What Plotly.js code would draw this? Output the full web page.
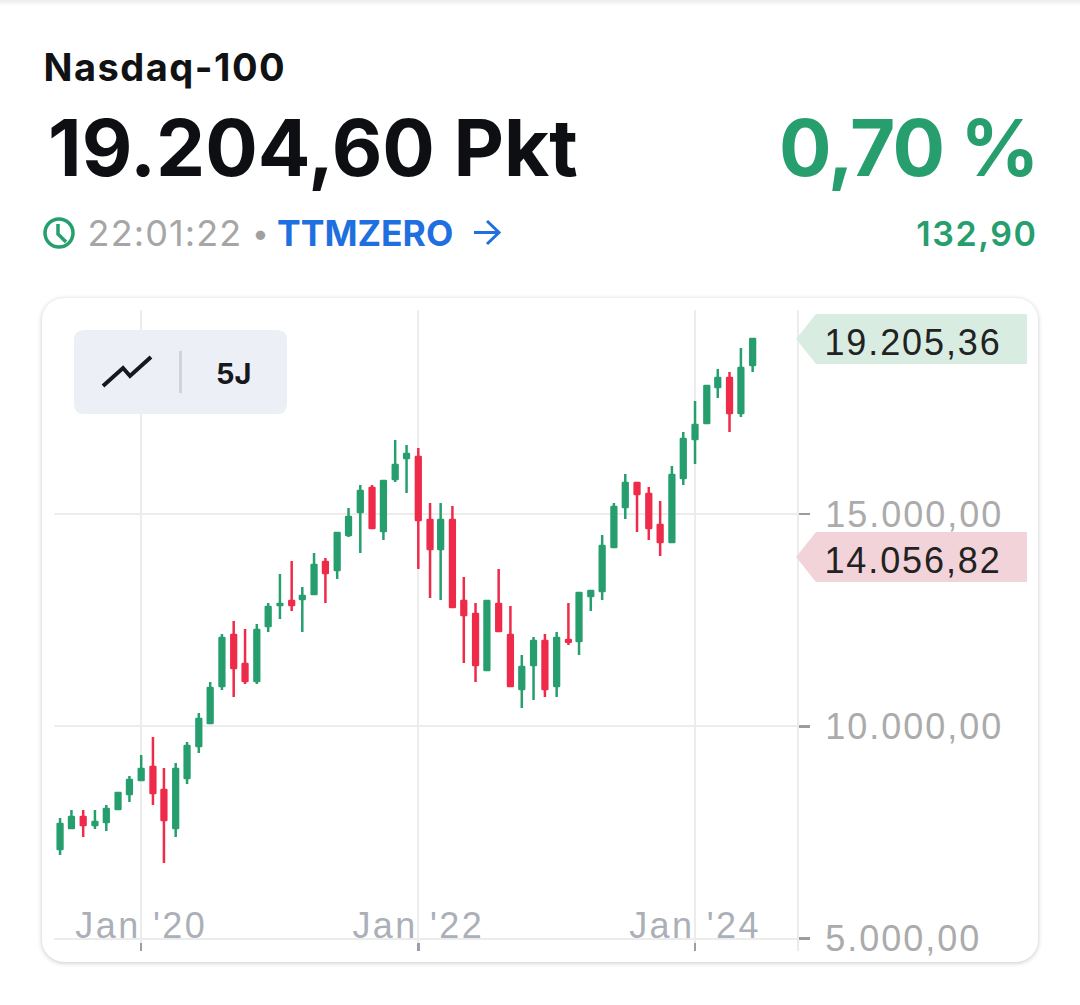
<!DOCTYPE html>
<html><head><meta charset="utf-8">
<script src="https://cdn.plot.ly/plotly-3.0.1.min.js"></script>
<style>
html,body{margin:0;padding:0;background:#fff;width:1080px;height:1005px;overflow:hidden}
#top{position:absolute;left:0;top:0;width:1080px;height:6px;background:linear-gradient(#ececec,#fff)}
#card{position:absolute;left:42px;top:298px;width:996px;height:664px;border-radius:22px;background:#fff;box-shadow:0 1px 5px rgba(0,0,0,.22)}
#chart{position:absolute;left:0;top:0;width:1080px;height:1005px}
.trace.boxes path{stroke-linejoin:round !important}
.ytick text{letter-spacing:2px}
.xtick text{letter-spacing:2.4px}
.annotation[data-index="0"] text{letter-spacing:1.5px}
.annotation[data-index="2"] text{letter-spacing:-1.7px}
.annotation[data-index="3"] text{letter-spacing:1.1px}
.annotation[data-index="6"] text{letter-spacing:1.6px}
.annotation[data-index="8"] text,.annotation[data-index="9"] text{letter-spacing:1.9px}
</style></head><body>
<div id="top"></div><div id="card"></div><div id="chart"></div>
<script>
const months=["2019-06-01","2019-07-01","2019-08-01","2019-09-01","2019-10-01","2019-11-01","2019-12-01",
"2020-01-01","2020-02-01","2020-03-01","2020-04-01","2020-05-01","2020-06-01","2020-07-01","2020-08-01","2020-09-01","2020-10-01","2020-11-01","2020-12-01",
"2021-01-01","2021-02-01","2021-03-01","2021-04-01","2021-05-01","2021-06-01","2021-07-01","2021-08-01","2021-09-01","2021-10-01","2021-11-01","2021-12-01",
"2022-01-01","2022-02-01","2022-03-01","2022-04-01","2022-05-01","2022-06-01","2022-07-01","2022-08-01","2022-09-01","2022-10-01","2022-11-01","2022-12-01",
"2023-01-01","2023-02-01","2023-03-01","2023-04-01","2023-05-01","2023-06-01","2023-07-01","2023-08-01","2023-09-01","2023-10-01","2023-11-01","2023-12-01",
"2024-01-01","2024-02-01","2024-03-01","2024-04-01","2024-05-01","2024-06-01"];
const opens=[7108,7603,7862,7674,7744,8051,8404,8734,9040,8498,7603,8781,9535,10077,10948,12150,11466,11066,12362,
12856,12951,12998,13115,13869,13681,14505,15047,15612,14600,15824,16319,16343,14859,14176,14859,12951,12644,11325,12880,12150,
10878,11443,12008,10948,12030,12008,13068,13186,14223,15165,15730,15471,14741,14340,15848,16767,17144,17992,18204,17379,18510];
const highs=[7839,8027,8027,8027,8145,8451,8828,9323,9747,9017,9134,9629,10312,11042,12173,12479,12291,12409,12903,
13587,13893,13280,14081,13963,14576,15141,15683,15683,15801,16743,16625,16555,15259,15259,15188,13516,12903,12974,13704,12833,
11678,12102,12173,12220,12903,13163,13210,14505,15259,15942,15754,15636,15306,16131,16932,17662,18039,18416,18345,18910,19146];
const lows=[6967,7580,7391,7580,7532,8027,8216,8710,8145,6779,7391,8640,9370,10053,10854,10689,10995,10995,12220,
12527,12715,12220,13092,12903,13469,14458,14081,14647,14388,15754,15495,13704,13021,12974,12786,11490,11042,11302,12220,10925,
10430,10618,10689,10689,11914,11678,12715,12974,14199,14882,14576,14388,14011,14317,15683,16178,17120,17733,16932,17285,18345];
const closes=[7697,7862,7674,7744,8051,8428,8734,8993,8428,7792,8993,9535,10171,10901,12079,11372,11066,12267,12809,
12880,12856,13068,13799,13610,14552,14929,15542,14670,15777,16154,16413,14859,14176,14859,12809,12621,11443,12951,12244,10948,
11396,12008,10878,12079,11990,13139,13186,14246,15165,15730,15471,14670,14340,15919,16767,17097,18015,18204,17379,18439,19122];
const xTickVals=["2020-01-01","2022-01-01","2024-01-01"];
const xTickText=["Jan '20","Jan '22","Jan '24"];
const yTickVals=[5000,10000,15000];
const GREEN="#269e6e",RED="#ef2b4a";
const L=54,R=797,T=310,B=951,W=1080,H=1005;
const px=x=>(x-L)/(R-L), py=(y=>(B-y)/(B-T));
const poly=(pts,close)=>pts.map((p,i)=>(i?"L":"M")+px(p[0]).toFixed(5)+","+py(p[1]).toFixed(5)).join(" ")+(close?" Z":"");
function roundRect(x0,y0,x1,y1,r){
 return poly([[x0+r,y0],[x1-r,y0]])+" Q"+px(x1)+","+py(y0)+" "+px(x1)+","+py(y0+r)+
 " L"+px(x1)+","+py(y1-r)+" Q"+px(x1)+","+py(y1)+" "+px(x1-r)+","+py(y1)+
 " L"+px(x0+r)+","+py(y1)+" Q"+px(x0)+","+py(y1)+" "+px(x0)+","+py(y1-r)+
 " L"+px(x0)+","+py(y0+r)+" Q"+px(x0)+","+py(y0)+" "+px(x0+r)+","+py(y0)+" Z";
}
const sh=(path,fill,lc,lw)=>({type:"path",xref:"paper",yref:"paper",path:path,fillcolor:fill||"rgba(0,0,0,0)",line:{color:lc||"rgba(0,0,0,0)",width:lw||0},layer:"above"});
const shapes=[
 sh(roundRect(74,330,287,414,10),"#eceff5"),
 sh(poly([[103,386],[123,368],[130,376],[151,357]]),null,"#16181c",4),
 sh(poly([[180.5,351],[180.5,393]]),null,"#d2d3d6",3),
 sh(poly([[796,339],[816,314],[1027,314],[1027,364],[816,364]],true),"#d9ece2"),
 sh(poly([[796,557],[816,532],[1027,532],[1027,582],[816,582]],true),"#f3d3da"),
 {type:"circle",xref:"paper",yref:"paper",x0:px(45),x1:px(73),y0:py(247),y1:py(219),line:{color:GREEN,width:3.5},layer:"above"},
 sh(poly([[58,224],[58,234],[66,242]]),null,GREEN,3.5),
 sh(poly([[474,232.5],[499,232.5]]),null,"#1f6fe0",3),
 sh(poly([[487,221],[499,232.5],[487,244]]),null,"#1f6fe0",3)
];
const INTER="Inter, 'Noto Sans', sans-serif", LIB="'Liberation Sans', Arial, sans-serif";
const an=(text,x,y,size,color,weight,anchor,family)=>({text:text,xref:"paper",yref:"paper",x:px(x),y:py(y),xanchor:anchor||"left",yanchor:"middle",showarrow:false,borderpad:0,
 font:{family:family||INTER,size:size,color:color,weight:weight||400}});
const annotations=[
 an("Nasdaq-100",50,67,38,"#101214",700),
 an("19.204,60 Pkt",47,147,78,"#0d0f12",700),
 an("0,70 %",1044,147,78,GREEN,700,"right"),
 an("22:01:22",91,233,36,"#a6a6a6",400),
 an("•",251,233,30,"#a0a0a0",400),
 an("TTMZERO",276,233,35.5,"#1f6fe0",700),
 an("132,90",1034,233,34,GREEN,600,"right"),
 an("5J",234,373,29,"#16181c",700,"center"),
 an("19.205,36",832,342,36,"#222",400,"left",LIB),
 an("14.056,82",832,560,36,"#222",400,"left",LIB)
];
const trace={type:"candlestick",x:months,open:opens,high:highs,low:lows,close:closes,
 increasing:{line:{color:GREEN,width:2.5},fillcolor:GREEN},
 decreasing:{line:{color:RED,width:2.5},fillcolor:RED},
 hoverinfo:"skip",showlegend:false};
const layout={width:W,height:H,margin:{l:L,r:W-R,t:T,b:H-B,pad:0},
 paper_bgcolor:"rgba(0,0,0,0)",plot_bgcolor:"rgba(0,0,0,0)",separators:",.",showlegend:false,boxgap:0.36,
 xaxis:{type:"date",range:["2019-05-16","2024-09-26"],rangeslider:{visible:false},tickmode:"array",tickvals:xTickVals,ticktext:xTickText,
  ticks:"inside",ticklen:8,tickwidth:2.5,tickcolor:"#9a9fa9",ticklabelposition:"outside",ticklabelstandoff:-50,
  tickfont:{family:LIB,size:36,color:"#abb0b8"},showgrid:true,gridcolor:"#ececec",gridwidth:2,showline:false,zeroline:false,fixedrange:true},
 yaxis:{range:[4706,19806],side:"right",tickmode:"array",tickvals:yTickVals,tickformat:",.2f",
  ticks:"outside",ticklen:11,tickwidth:2.5,tickcolor:"#9c9c9c",ticklabelstandoff:8,
  tickfont:{family:LIB,size:36,color:"#ababab"},showgrid:true,gridcolor:"#ececec",gridwidth:2,showline:true,linecolor:"#ececec",linewidth:2,zeroline:false,fixedrange:true},
 shapes:shapes,annotations:annotations};
Plotly.newPlot("chart",[trace],layout,{displayModeBar:false,staticPlot:true});
</script></body></html>
